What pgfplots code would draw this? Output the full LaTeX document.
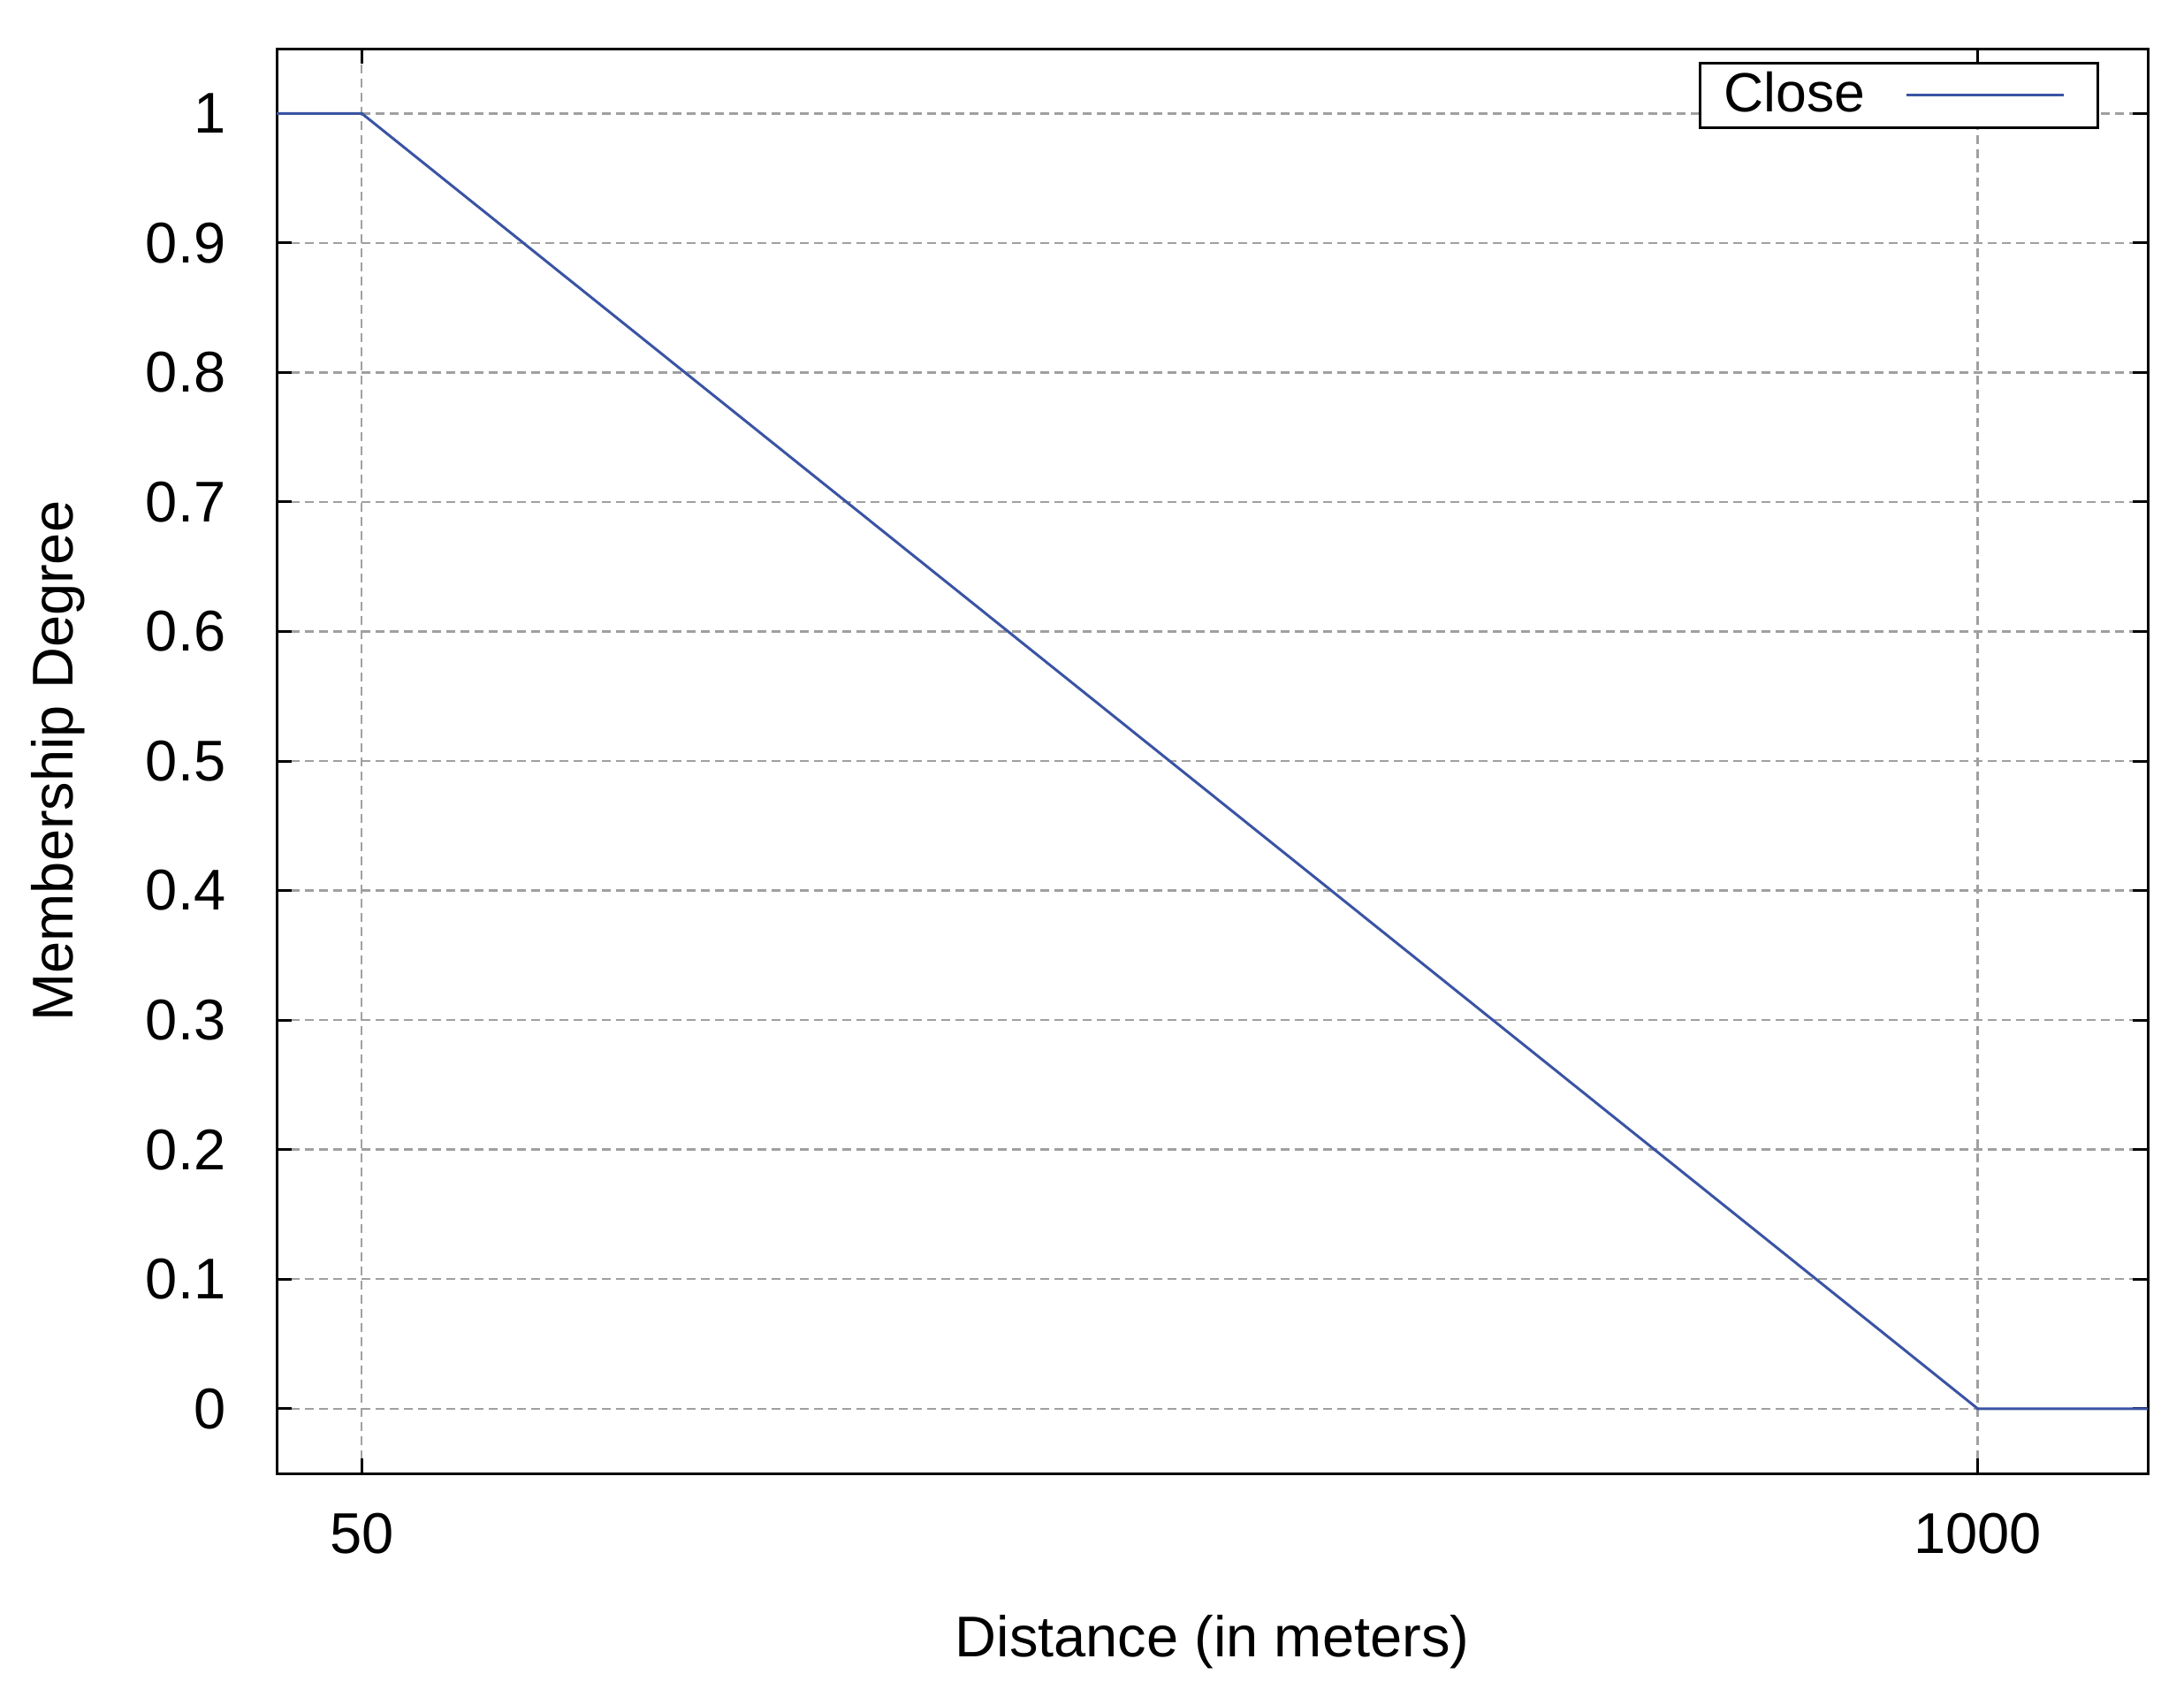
\documentclass[border=0pt]{standalone}
\usepackage{pgfplots}
\pgfplotsset{compat=1.18}
\usepackage{fontspec}
\setmainfont{Liberation Sans}
\definecolor{lineblue}{RGB}{58,84,164}
\definecolor{gridgray}{RGB}{160,160,160}
\begin{document}
\begin{tikzpicture}
\begin{axis}[
  scale only axis,
  width=423.4pt, height=322.4pt,
  xmin=0, xmax=1100, ymin=-0.05, ymax=1.05,
  xtick={50,1000}, xticklabels={50,1000},
  ytick={0,0.1,0.2,0.3,0.4,0.5,0.6,0.7,0.8,0.9,1},
  yticklabels={0,0.1,0.2,0.3,0.4,0.5,0.6,0.7,0.8,0.9,1},
  tick align=inside,
  major tick length=3.4pt,
  tick style={black, line width=0.6pt},
  axis line style={line width=0.6pt},
  grid=major,
  major grid style={gridgray, dash pattern=on 2pt off 1.2pt, line width=0.5pt},
  ticklabel style={font=\fontsize{13}{15}\selectfont},
  xticklabel style={yshift=-5.5pt},
  yticklabel style={xshift=-8pt},
  xlabel={Distance (in meters)},
  ylabel={Membership Degree},
  label style={font=\fontsize{13}{15}\selectfont},
  xlabel style={at={(0.5,0)}, anchor=base, yshift=-41.5pt},
  ylabel style={at={(-0.1167,0.5)}, anchor=center},
  legend plot pos=right,
  legend style={at={(1,1)}, anchor=north east, xshift=-11pt, yshift=-3pt,
    draw=black, line width=0.6pt, font=\fontsize{12.5}{15}\selectfont,
    inner xsep=3.5pt, inner ysep=0pt, column sep=7pt},
  legend cell align=left,
  legend image code/.code={\draw[#1, line width=0.6pt] (0pt,0pt) -- (35.5pt,0pt); \path (39.5pt,0pt);},
]
\addplot[lineblue, line width=0.6pt] coordinates {(0,1) (50,1) (1000,0) (1100,0)};
\addlegendentry{Close}
\end{axis}
\pgfresetboundingbox
\path[use as bounding box] ([xshift=-62.6pt,yshift=-50.4pt]current axis.south west) rectangle ([xshift=8.2pt,yshift=11pt]current axis.north east);
\end{tikzpicture}
\end{document}
